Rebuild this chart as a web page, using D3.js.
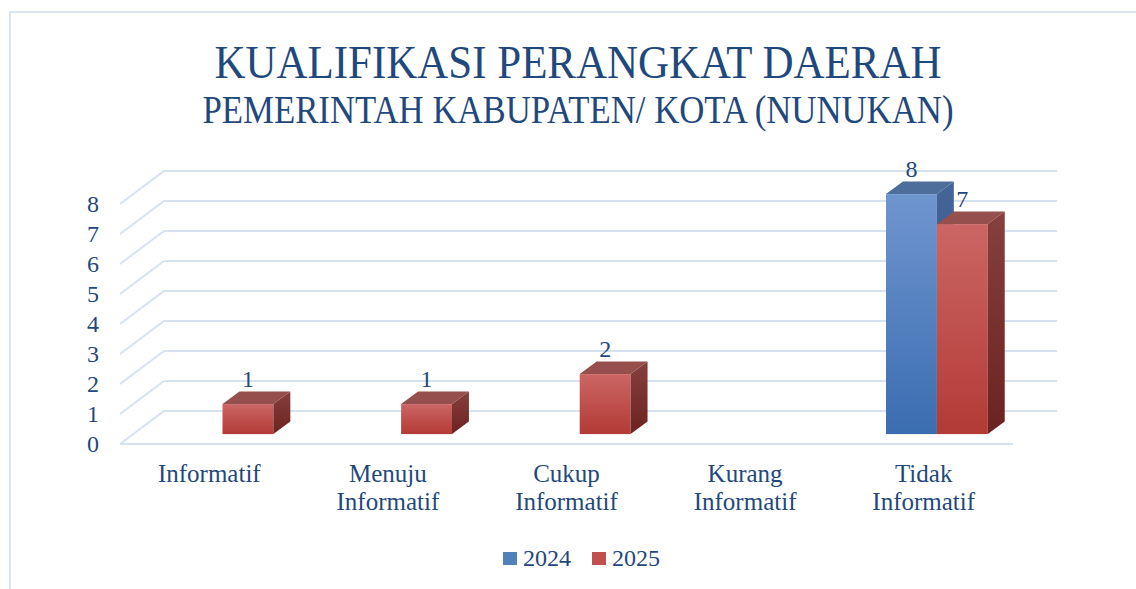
<!DOCTYPE html>
<html>
<head>
<meta charset="utf-8">
<script src="https://cdn.jsdelivr.net/npm/d3@7"></script>
<style>
  body { margin: 0; background: #fff; }
  text { font-family: "Liberation Serif", "Times New Roman", serif; fill: #1f497d; }
</style>
</head>
<body>
<svg id="chart" width="1136" height="589"></svg>
<script>
// data
const categories = [["Informatif"], ["Menuju", "Informatif"], ["Cukup", "Informatif"], ["Kurang", "Informatif"], ["Tidak", "Informatif"]];
const catKeys = categories.map(c => c.join(" "));
const series = ["2024", "2025"];
const values2024 = [0, 0, 0, 0, 8];
const values2025 = [1, 1, 2, 0, 7];
const yTicks = [0, 1, 2, 3, 4, 5, 6, 7, 8];
const titleText = "KUALIFIKASI PERANGKAT DAERAH";
const subtitleText = "PEMERINTAH KABUPATEN/ KOTA (NUNUKAN)";

const svg = d3.select("#chart");

// frame
svg.append("path")
    .attr("d", "M10,589 L10,12 L1136,12")
    .attr("fill", "none")
    .attr("stroke", "#dbe4f1")
    .attr("stroke-width", 2);

// titles
svg.append("text")
    .attr("x", 578).attr("y", 78)
    .attr("text-anchor", "middle")
    .attr("font-size", 47)
    .attr("textLength", 727)
    .attr("lengthAdjust", "spacingAndGlyphs")
    .text(titleText);

svg.append("text")
    .attr("x", 578).attr("y", 123)
    .attr("text-anchor", "middle")
    .attr("font-size", 40)
    .attr("textLength", 751)
    .attr("lengthAdjust", "spacingAndGlyphs")
    .text(subtitleText);

// 3d layout
const DX = 44, DY = -33;          // full depth offset of the back wall
const zFront = 0.3, zBack = 0.685; // bar depth within the floor

const x0 = d3.scaleBand().domain(catKeys).range([120, 1013]);
const bw = x0.bandwidth();
const x1 = d3.scaleBand().domain(series).range([bw * 0.215, bw * 0.785]);
const y = d3.scaleLinear().domain([0, 8]).range([444, 204]);

const proj = (x, v, z) => [x + z * DX, y(v) + z * DY];

const g = svg.append("g");

// gridlines: left wall diagonal + back wall line
yTicks.forEach(t => {
    const pts = [proj(120, t, 0), proj(120, t, 1), proj(1013, t, 1)];
    g.append("path")
        .attr("d", d3.line()(pts))
        .attr("fill", "none")
        .attr("stroke", "#d6e1f1")
        .attr("stroke-width", 1.8);
});
// floor front edge
g.append("path")
    .attr("d", d3.line()([proj(120, 0, 0), proj(1013, 0, 0)]))
    .attr("stroke", "#d6e1f1")
    .attr("stroke-width", 1.8);

// y labels
svg.append("g").selectAll("text")
    .data(yTicks)
    .join("text")
    .attr("x", 99)
    .attr("y", d => y(d))
    .attr("dy", "0.35em")
    .attr("text-anchor", "end")
    .attr("font-size", 24)
    .text(d => d);

// x labels
const xl = svg.append("g").selectAll("text")
    .data(categories)
    .join("text")
    .attr("text-anchor", "middle")
    .attr("font-size", 25);
xl.each(function (d, i) {
    const cx = x0(catKeys[i]) + bw / 2;
    d3.select(this).selectAll("tspan")
        .data(d)
        .join("tspan")
        .attr("x", cx)
        .attr("y", (s, j) => 482 + j * 28)
        .text(s => s);
});

// gradients
const defs = svg.append("defs");
const grad = (id, c1, c2) => {
    const lg = defs.append("linearGradient").attr("id", id)
        .attr("x1", 0).attr("y1", 0).attr("x2", 0).attr("y2", 1);
    lg.append("stop").attr("offset", "0%").attr("stop-color", c1);
    lg.append("stop").attr("offset", "100%").attr("stop-color", c2);
};
grad("front2024", "#6f95cf", "#3b6db1");
grad("front2025", "#cb6664", "#b33a36");
grad("side2024", "#45659a", "#2f5187");
grad("side2025", "#86403d", "#6c2220");

const colors = {
    "2024": { front: "url(#front2024)", top: "#4d6d9b", side: "url(#side2024)", legend: "#4f81bd" },
    "2025": { front: "url(#front2025)", top: "#954f4c", side: "url(#side2025)", legend: "#c0504d" }
};

// bars
const bars = [];
catKeys.forEach((c, i) => {
    bars.push({ cat: c, s: "2024", v: values2024[i] });
    bars.push({ cat: c, s: "2025", v: values2025[i] });
});

const barG = svg.append("g");
bars.filter(d => d.v > 0).forEach(d => {
    const xl0 = x0(d.cat) + x1(d.s);
    const xr0 = xl0 + x1.bandwidth();
    const col = colors[d.s];
    const bg = barG.append("g");
    // front face
    const ftl = proj(xl0, d.v, zFront), fbr = proj(xr0, 0, zFront);
    bg.append("rect")
        .attr("x", ftl[0]).attr("y", ftl[1])
        .attr("width", fbr[0] - ftl[0]).attr("height", fbr[1] - ftl[1])
        .attr("fill", col.front);
    // top face
    bg.append("path")
        .attr("d", d3.line()([proj(xl0, d.v, zFront), proj(xr0, d.v, zFront), proj(xr0, d.v, zBack), proj(xl0, d.v, zBack)]) + "Z")
        .attr("fill", col.top);
    // side face
    bg.append("path")
        .attr("d", d3.line()([proj(xr0, d.v, zFront), proj(xr0, d.v, zBack), proj(xr0, 0, zBack), proj(xr0, 0, zFront)]) + "Z")
        .attr("fill", col.side);
    // value label
    const top = proj(xl0, d.v, zBack);
    bg.append("text")
        .attr("x", (ftl[0] + fbr[0]) / 2)
        .attr("y", top[1] - 4)
        .attr("text-anchor", "middle")
        .attr("font-size", 24)
        .text(d.v);
});

// legend
const lg = svg.append("g");
series.forEach((s, i) => {
    const lx = 503 + i * 89;
    lg.append("rect")
        .attr("x", lx).attr("y", 552)
        .attr("width", 14).attr("height", 13)
        .attr("fill", colors[s].legend);
    lg.append("text")
        .attr("x", lx + 20).attr("y", 566)
        .attr("font-size", 24)
        .text(s);
});
</script>
</body>
</html>
